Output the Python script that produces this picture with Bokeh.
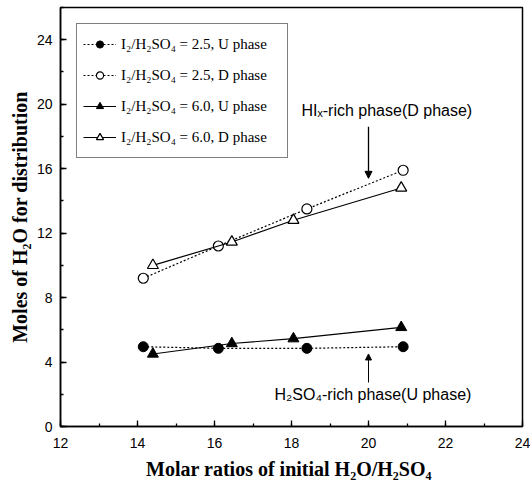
from bokeh.plotting import figure
from bokeh.models import (Range1d, SingleIntervalTicker, Legend, LegendItem,
                          Label, Arrow, NormalHead)
from bokeh.embed import file_html
from bokeh.resources import INLINE

# ---- data ----
x_25 = [14.15, 16.1, 18.4, 20.9]
u_25 = [4.95, 4.85, 4.85, 4.95]
d_25 = [9.2, 11.2, 13.5, 15.9]
x_60 = [14.4, 16.45, 18.05, 20.85]
u_60 = [4.5, 5.15, 5.45, 6.15]
d_60 = [10.0, 11.45, 12.8, 14.8]

labels = ["I\u2082/H\u2082SO\u2084 = 2.5, U phase",
          "I\u2082/H\u2082SO\u2084 = 2.5, D phase",
          "I\u2082/H\u2082SO\u2084 = 6.0, U phase",
          "I\u2082/H\u2082SO\u2084 = 6.0, D phase"]

p = figure(width=530, height=485, output_backend="svg", toolbar_location=None,
           x_range=Range1d(12, 24), y_range=Range1d(0, 26),
           min_border_left=60, min_border_right=8, min_border_top=7,
           min_border_bottom=59)
p.background_fill_color = "white"
p.border_fill_color = "white"
p.grid.visible = False
p.outline_line_color = "black"
p.outline_line_width = 1.5

p.xaxis.ticker = SingleIntervalTicker(interval=2, num_minor_ticks=2)
p.yaxis.ticker = SingleIntervalTicker(interval=4, num_minor_ticks=2)
for ax in (p.xaxis[0], p.yaxis[0]):
    ax.axis_line_color = "black"
    ax.axis_line_width = 1.5
    ax.major_tick_in = 6
    ax.major_tick_out = 0
    ax.minor_tick_in = 3
    ax.minor_tick_out = 0
    ax.major_tick_line_color = "black"
    ax.minor_tick_line_color = "black"
    ax.major_tick_line_width = 1.3
    ax.minor_tick_line_width = 1.3
    ax.major_label_text_font = "Liberation Sans"
    ax.major_label_text_font_size = "14px"
    ax.major_label_text_color = "black"
    ax.axis_label_text_font = "Liberation Serif"
    ax.axis_label_text_font_style = "bold"
    ax.axis_label_text_font_size = "20px"
    ax.axis_label_text_color = "black"

p.xaxis.axis_label = "Molar ratios of  initial H\u2082O/H\u2082SO\u2084"
p.yaxis.axis_label = "Moles of H\u2082O for distribution"
p.xaxis.major_label_standoff = 11
p.xaxis.axis_label_standoff = 7
p.yaxis.major_label_standoff = 8
p.yaxis.axis_label_standoff = 3

# ---- series ----
l1 = p.line(x_25, u_25, line_color="black", line_width=1.2, line_dash="2 2")
m1 = p.scatter(x_25, u_25, marker="circle", size=10, fill_color="black", line_color="black")
l2 = p.line(x_25, d_25, line_color="black", line_width=1.2, line_dash="2 2")
m2 = p.scatter(x_25, d_25, marker="circle", size=10, fill_color="white", line_color="black", line_width=1.2)
l3 = p.line(x_60, u_60, line_color="black", line_width=1.2)
m3 = p.scatter(x_60, u_60, marker="triangle", size=11, fill_color="black", line_color="black")
l4 = p.line(x_60, d_60, line_color="black", line_width=1.2)
m4 = p.scatter(x_60, d_60, marker="triangle", size=11, fill_color="white", line_color="black", line_width=1.2)

legend = Legend(items=[LegendItem(label=labels[0], renderers=[l1, m1]),
                       LegendItem(label=labels[1], renderers=[l2, m2]),
                       LegendItem(label=labels[2], renderers=[l3, m3]),
                       LegendItem(label=labels[3], renderers=[l4, m4])],
                location="top_left", margin=16, padding=6, spacing=3,
                label_height=28, glyph_height=18, glyph_width=33,
                label_standoff=5, label_width=160,
                label_text_font="Liberation Serif", label_text_font_size="15px",
                label_text_color="black",
                border_line_color="black", border_line_width=1.5,
                background_fill_color="white", background_fill_alpha=1)
p.add_layout(legend)

# ---- annotations ----
p.add_layout(Label(x=18.26, y=19.6, text="HI\u2093-rich phase(D phase)",
                   text_font="Liberation Sans", text_font_size="16px",
                   text_baseline="middle", text_color="black"))
p.add_layout(Label(x=17.56, y=2.0, text="H\u2082SO\u2084-rich phase(U phase)",
                   text_font="Liberation Sans", text_font_size="16px",
                   text_baseline="middle", text_color="black"))
p.add_layout(Arrow(x_start=20.0, y_start=18.6, x_end=20.0, y_end=15.4,
                   line_color="black", line_width=1.3,
                   end=NormalHead(size=7, fill_color="black", line_color="black")))
p.add_layout(Arrow(x_start=20.0, y_start=2.73, x_end=20.0, y_end=4.5,
                   line_color="black", line_width=1.0,
                   end=NormalHead(size=6, fill_color="black", line_color="black")))

open("out.html", "w").write(file_html(p, INLINE))
